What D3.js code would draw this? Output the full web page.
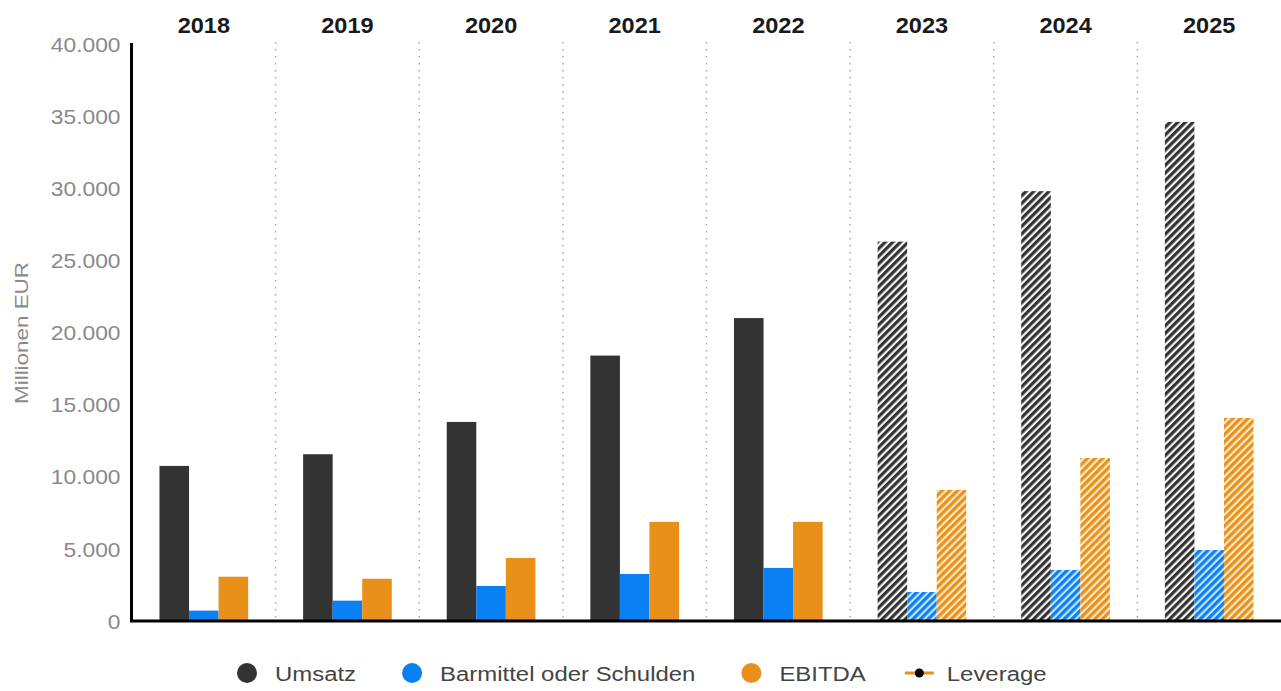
<!DOCTYPE html>
<html><head><meta charset="utf-8">
<script src="https://cdn.jsdelivr.net/npm/d3@7"></script>
<style>
body{margin:0;background:#fff;}
svg{display:block;font-family:"Liberation Sans",Arial,sans-serif;}
</style>
</head><body>
<svg id="chart" width="1281" height="691"></svg>
<script>
const years = ["2018","2019","2020","2021","2022","2023","2024","2025"];
const forecastYears = ["2023","2024","2025"];
const seriesNames = ["Umsatz","Barmittel oder Schulden","EBITDA"];
const umsatz    = [10750, 11560, 13800, 18400, 21000, 26300, 29800, 34600];
const barmittel = [720, 1410, 2430, 3260, 3680, 2010, 3540, 4920];
const ebitda    = [3070, 2930, 4370, 6870, 6870, 9090, 11300, 14080];
const leverage  = []; // Leverage: only shown in the legend, no visible values
const yTicks = [0, 5000, 10000, 15000, 20000, 25000, 30000, 35000, 40000];
const yTickLabels = ["0","5.000","10.000","15.000","20.000","25.000","30.000","35.000","40.000"];
const legendNames = ["Umsatz","Barmittel oder Schulden","EBITDA","Leverage"];

const colors = {"Umsatz":"#333333","Barmittel oder Schulden":"#0a80f5","EBITDA":"#e8901a"};
const hatchLight = {"Umsatz":"#f4f4f4","Barmittel oder Schulden":"#c6e2ff","EBITDA":"#fde9c6"};
const leverageColor = "#e8901a";

const svg = d3.select("#chart");
const mLeft = 132, mRight = 1281, mTop = 44, mBottom = 621;

const x0 = d3.scaleBand().domain(years).range([mLeft, mRight]).padding(0);
const x1 = d3.scaleBand().domain(seriesNames).range([0, x0.bandwidth()]).paddingInner(0).paddingOuter(0.93);
const y = d3.scaleLinear().domain([0, 40000]).range([mBottom, mTop]);

// patterns
const defs = svg.append("defs");
seriesNames.forEach((s, i) => {
  const p = defs.append("pattern").attr("id", "hatch" + i)
    .attr("patternUnits", "userSpaceOnUse").attr("width", 5.4).attr("height", 5.4)
    .attr("patternTransform", "rotate(45)");
  p.append("rect").attr("width", 5.4).attr("height", 5.4).attr("fill", hatchLight[s]);
  p.append("rect").attr("width", 3.2).attr("height", 5.4).attr("fill", colors[s]);
});

// dividers
svg.append("g").selectAll("line").data(years.slice(1)).join("line")
  .attr("x1", d => x0(d)).attr("x2", d => x0(d))
  .attr("y1", 42).attr("y2", mBottom - 3)
  .attr("stroke", "#a8a8a8").attr("stroke-width", 1.5)
  .attr("stroke-dasharray", "1.5,5.5");

// bars
const seriesData = [umsatz, barmittel, ebitda];
const groups = svg.append("g").selectAll("g").data(years).join("g")
  .attr("transform", d => `translate(${x0(d)},0)`);
groups.selectAll("rect").data((yr, yi) => seriesNames.map((s, si) => ({yr, s, si, v: seriesData[si][yi]})))
  .join("rect")
  .attr("x", d => x1(d.s))
  .attr("width", x1.bandwidth())
  .attr("y", d => y(d.v))
  .attr("height", d => y(0) - y(d.v))
  .attr("fill", d => forecastYears.includes(d.yr) ? `url(#hatch${d.si})` : colors[d.s]);

// y axis
const yAxis = svg.append("g").attr("transform", `translate(${mLeft - 0.5},0)`)
  .call(d3.axisLeft(y).tickValues(yTicks).tickFormat((d, i) => yTickLabels[i]).tickSize(0).tickSizeOuter(0));
yAxis.select(".domain").attr("stroke", "#000").attr("stroke-width", 3)
  .attr("d", `M0,${mTop - 1}V${mBottom + 1}`);
yAxis.selectAll("text")
  .attr("x", 0).attr("dy", "0.36em")
  .attr("transform", "translate(-11,0) scale(1.14,1)")
  .attr("font-size", 20).attr("fill", "#8a8a8a")
  .attr("font-family", '"Liberation Sans",Arial,sans-serif');

// x axis line (bottom)
const xAxis = svg.append("g").attr("transform", `translate(0,${mBottom})`)
  .call(d3.axisBottom(x0).tickSize(0).tickSizeOuter(0).tickFormat(""));
xAxis.select(".domain").attr("stroke", "#000").attr("stroke-width", 3)
  .attr("d", `M${mLeft - 2},0H${mRight}`);

// year labels on top
const topAxis = svg.append("g").attr("transform", "translate(0,33)")
  .call(d3.axisTop(x0).tickSize(0).tickPadding(0).tickSizeOuter(0));
topAxis.select(".domain").remove();
topAxis.selectAll("text")
  .attr("y", 0).attr("dy", 0)
  .attr("transform", "scale(1.07,1)")
  .attr("font-size", 22).attr("font-weight", "bold").attr("fill", "#1a1a1a")
  .attr("font-family", '"Liberation Sans",Arial,sans-serif');

// y title
svg.append("text")
  .attr("transform", "translate(21,333) rotate(-90) scale(1.18,1)")
  .attr("text-anchor", "middle")
  .attr("dy", "0.35em")
  .attr("font-size", 19).attr("fill", "#8a8a8a")
  .text("Millionen EUR");

// legend
const legend = svg.append("g");
let lx = 237;
const ly = 673;
const gapsAfter = [46, 46, 39, 0];
legendNames.forEach((name, i) => {
  const g = legend.append("g");
  if (name === "Leverage") {
    g.append("line").attr("x1", lx).attr("x2", lx + 29).attr("y1", ly).attr("y2", ly)
      .attr("stroke", leverageColor).attr("stroke-width", 3);
    g.append("circle").attr("cx", lx + 14.5).attr("cy", ly).attr("r", 4.5).attr("fill", "#000");
    lx += 29 + 13;
  } else {
    g.append("circle").attr("cx", lx + 10).attr("cy", ly).attr("r", 10).attr("fill", colors[name]);
    lx += 20 + 18;
  }
  const t = g.append("text")
    .attr("transform", `translate(${lx},${ly}) scale(1.14,1)`)
    .attr("dy", "0.36em")
    .attr("font-size", 21).attr("fill", "#444")
    .text(name);
  const w = t.node().getComputedTextLength() * 1.14;
  lx += w + gapsAfter[i];
});
</script>
</body></html>
